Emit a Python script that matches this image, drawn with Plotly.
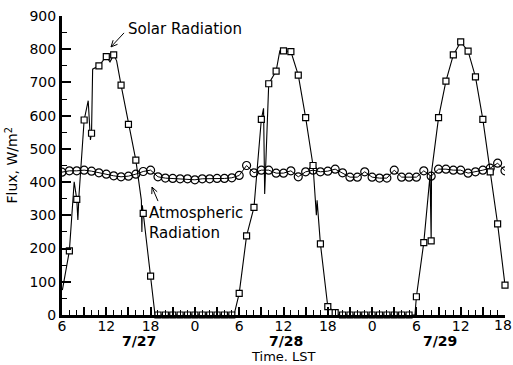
import math
import plotly.graph_objects as go

# Hours are counted from 00:00 on 7/27 (so 30 = 06:00 on 7/28, 54 = 06:00 on 7/29)
solar_hours = list(range(7, 67))
solar_flux = [193, 348, 587, 547, 750, 778, 783, 692, 574, 466, 306, 117,
              0, 0, 0, 0, 0, 0, 0, 0, 0, 0, 0,
              65, 238, 324, 589, 696, 734, 795, 793, 722, 594, 450, 214, 25, 7,
              0, 0, 0, 0, 0, 0, 0, 0, 0, 0,
              55, 218, 223, 594, 704, 783, 822, 794, 717, 589, 431, 274, 90]

# Short-lived excursions of the continuous pyranometer record between hourly points
solar_detail_hours = [6.05, 7.65, 8.15, 8.3, 9.55, 9.85, 10.15, 12.5, 13.4,
                      16.75, 16.82, 16.88, 18.6, 29.3, 32.3, 33.3, 33.45,
                      35.5, 40.45, 40.55, 43.5, 53.8, 55.85, 56.05]
solar_detail_flux = [75, 401, 286, 360, 645, 527, 740, 762, 765,
                     345, 250, 330, 0, 0, 410, 622, 364,
                     795, 300, 345, 0, 0, 421, 430]

atmos_hours = list(range(6, 67))
atmos_flux = [430, 434, 434, 436, 433, 428, 424, 419, 416, 418, 424, 432, 436,
              416, 412, 411, 410, 410, 407, 410, 410, 411, 411, 413, 420,
              450, 428, 436, 436, 427, 427, 434, 416, 431, 436, 431, 433, 439,
              428, 415, 415, 431, 415, 412, 412, 436, 415, 415, 415, 434, 418,
              439, 439, 436, 436, 427, 431, 436, 442, 457, 434]

tick_hours = list(range(6, 67, 3))
tick_text = [str(h % 24) if h % 6 == 0 else "" for h in tick_hours]
# The closing "18" sits on the page edge, so it is written as an annotation instead
end_hour = tick_hours[-1]
end_label = tick_text[-1]
tick_text[-1] = ""

date_labels = ["7/27", "7/28", "7/29"]
date_label_hours = [16.4, 36.4, 57.2]

FONT = "DejaVu Sans, Arial, sans-serif"
TICK_SIZE = 14

line_pts = sorted(zip(solar_hours + solar_detail_hours, solar_flux + solar_detail_flux))
line_x = [p[0] for p in line_pts]
line_y = [p[1] for p in line_pts]


def arrow_shape(x, y, dx, dy, head=7, spread=25):
    """Pointer drawn in pixels: head at data point (x, y), tail offset by (dx, dy) px (up = +)."""
    n = math.hypot(dx, dy)
    ux, uy = dx / n, dy / n
    a = math.radians(spread)
    b1 = (head * (ux * math.cos(a) - uy * math.sin(a)), head * (ux * math.sin(a) + uy * math.cos(a)))
    b2 = (head * (ux * math.cos(a) + uy * math.sin(a)), head * (-ux * math.sin(a) + uy * math.cos(a)))
    path = (f"M {dx:.1f},{dy:.1f} L 0,0 M {b1[0]:.1f},{b1[1]:.1f} L 0,0 "
            f"L {b2[0]:.1f},{b2[1]:.1f}")
    return dict(type="path", xref="x", yref="y", xsizemode="pixel", ysizemode="pixel",
                xanchor=x, yanchor=y, path=path, line=dict(color="black", width=1))


fig = go.Figure()

fig.add_trace(go.Scatter(x=atmos_hours, y=atmos_flux, mode="lines+markers",
                         line=dict(color="black", width=1),
                         marker=dict(symbol="circle-open", size=8, color="black",
                                     line=dict(width=1.2, color="black")),
                         showlegend=False))

fig.add_trace(go.Scatter(x=line_x, y=line_y, mode="lines",
                         line=dict(color="black", width=1.1),
                         showlegend=False))

fig.add_trace(go.Scatter(x=solar_hours, y=solar_flux, mode="markers",
                         marker=dict(symbol="square", size=6, color="white",
                                     line=dict(width=1.2, color="black")),
                         cliponaxis=False, showlegend=False))

annotations = [
    dict(x=end_hour, y=0, xref="x", yref="y", text=end_label, showarrow=False,
         xanchor="right", xshift=8, yanchor="top", yshift=-1, borderpad=0,
         font=dict(family=FONT, size=TICK_SIZE, color="black")),
]
for lab, h in zip(date_labels, date_label_hours):
    annotations.append(dict(x=h, y=0, xref="x", yref="y", text=f"<b>{lab}</b>",
                            showarrow=False, yshift=-26, yanchor="middle", borderpad=0,
                            font=dict(family=FONT, size=14, color="black")))

annotations += [
    dict(x=0.5, y=0, xref="paper", yref="y", text="Time. LST", showarrow=False,
         yshift=-50, yanchor="bottom", borderpad=0,
         font=dict(family=FONT, size=13, color="black")),
    dict(x=-0.115, y=0.5, xref="paper", yref="paper", text="Flux, W/m<sup>2</sup>",
         textangle=-90, showarrow=False, xanchor="center", yanchor="middle",
         font=dict(family=FONT, size=14, color="black")),
    dict(x=14.67, y=861, xref="x", yref="y", text="Solar Radiation", showarrow=False,
         xanchor="left", yanchor="middle", font=dict(family=FONT, size=15, color="black")),
    dict(x=17.51, y=277, xref="x", yref="y", text="Atmospheric<br>Radiation",
         showarrow=False, align="left", xanchor="left", yanchor="middle",
         font=dict(family=FONT, size=15, color="black")),
]

shapes = [
    arrow_shape(12.64, 807, 13, 14),
    arrow_shape(18.19, 385, 6, -14),
]

fig.update_layout(
    width=513, height=365,
    margin=dict(l=62, r=8, t=16, b=50),
    paper_bgcolor="white", plot_bgcolor="white",
    annotations=annotations,
    shapes=shapes,
    xaxis=dict(range=[6, 66], showgrid=False, zeroline=False, automargin=False,
               showline=True, linecolor="black", linewidth=3,
               tickmode="array", tickvals=tick_hours, ticktext=tick_text,
               ticks="inside", ticklen=8, tickwidth=1.5, tickcolor="black",
               minor=dict(dtick=1, tick0=6, ticks="inside", ticklen=5,
                          tickwidth=1.2, tickcolor="black", showgrid=False),
               ticklabelstandoff=-4,
               tickfont=dict(family=FONT, size=TICK_SIZE, color="black")),
    yaxis=dict(range=[0, 900], showgrid=False, zeroline=False, automargin=False,
               showline=True, linecolor="black", linewidth=3,
               tickmode="linear", tick0=0, dtick=100,
               ticks="inside", ticklen=9, tickwidth=1.5, tickcolor="black",
               minor=dict(dtick=50, ticks="inside", ticklen=5,
                          tickwidth=1.2, tickcolor="black", showgrid=False),
               tickfont=dict(family=FONT, size=14, color="black")),
)

fig.write_html("out.html")
